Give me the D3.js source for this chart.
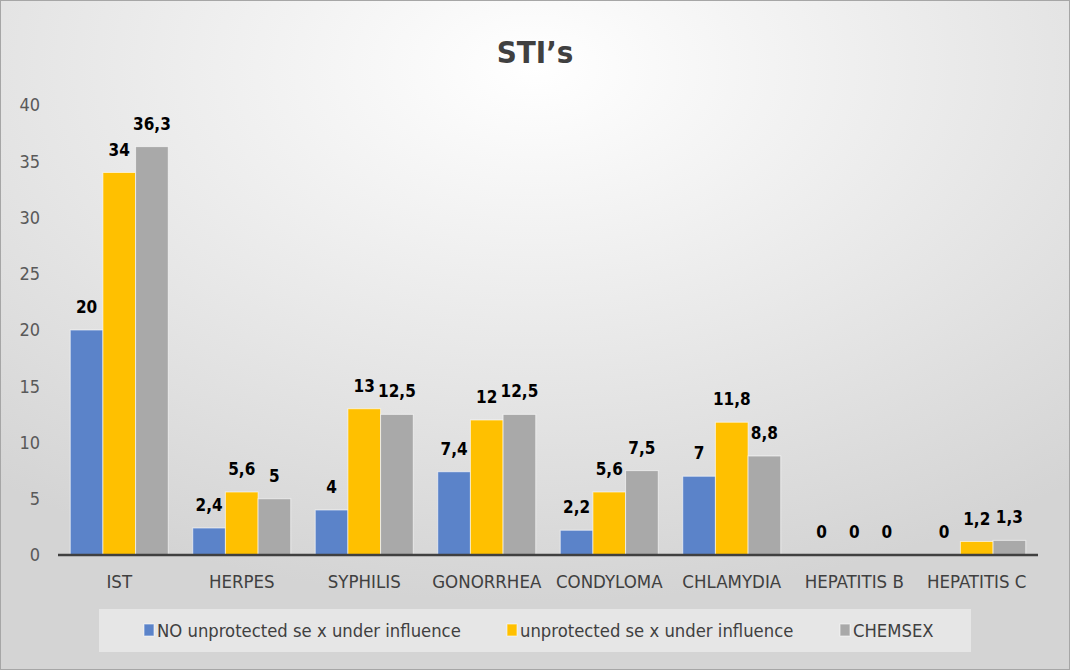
<!DOCTYPE html>
<html>
<head>
<meta charset="utf-8">
<script src="https://cdn.jsdelivr.net/npm/d3@7"></script>
<style>
  html, body { margin: 0; padding: 0; background: #fff; }
  svg { display: block; }
  text { font-family: "Liberation Sans Narrow", "Arial Narrow", "DejaVu Sans Condensed", sans-serif; }
</style>
</head>
<body>
<svg id="chart" width="1070" height="670"></svg>
<script>
const title = "STI’s";
const categories = ["IST", "HERPES", "SYPHILIS", "GONORRHEA", "CONDYLOMA", "CHLAMYDIA", "HEPATITIS B", "HEPATITIS C"];
const seriesNames = ["NO unprotected se x under influence", "unprotected se x under influence", "CHEMSEX"];
const seriesColors = ["#5b83c9", "#ffc000", "#a9a9a9"];
const noUnprotected = [20, 2.4, 4, 7.4, 2.2, 7, 0, 0];
const unprotected = [34, 5.6, 13, 12, 5.6, 11.8, 0, 1.2];
const chemsex = [36.3, 5, 12.5, 12.5, 7.5, 8.8, 0, 1.3];
const yTicks = [0, 5, 10, 15, 20, 25, 30, 35, 40];

const seriesValues = [noUnprotected, unprotected, chemsex];
const W = 1070, H = 670;
const svg = d3.select("#chart");

// background
const defs = svg.append("defs");
const grad = defs.append("radialGradient").attr("id", "bg")
  .attr("cx", "50%").attr("cy", "10%").attr("r", "80%")
  .attr("gradientUnits", "objectBoundingBox");
grad.append("stop").attr("offset", "0%").attr("stop-color", "#ffffff");
grad.append("stop").attr("offset", "100%").attr("stop-color", "#d4d4d4");
svg.append("rect").attr("x", 0.5).attr("y", 0.5).attr("width", W - 1).attr("height", H - 1)
  .attr("fill", "url(#bg)").attr("stroke", "#a6a6a6").attr("stroke-width", 1);

// title
svg.append("text").attr("x", 535).attr("y", 63).attr("text-anchor", "middle")
  .attr("font-size", 31).attr("font-weight", "bold").attr("fill", "#404040").text(title);

const x0 = d3.scaleBand().domain(categories).range([58, 1038]).paddingInner(0.2).paddingOuter(0.1);
const x1 = d3.scaleBand().domain(d3.range(seriesNames.length)).range([0, x0.bandwidth()]);
const y = d3.scaleLinear().domain([0, 40]).range([555, 105]);

// y tick labels
svg.append("g").selectAll("text").data(yTicks).join("text")
  .attr("x", 40).attr("y", d => y(d)).attr("dy", "0.35em").attr("text-anchor", "end")
  .attr("font-size", 18).attr("fill", "#595959").text(d => d);

const fmt = v => String(v).replace(".", ",");

// bars
const groups = svg.append("g").selectAll("g").data(categories).join("g")
  .attr("transform", c => `translate(${x0(c)},0)`);
groups.each(function(c, ci) {
  const g = d3.select(this);
  const data = seriesValues.map((arr, si) => ({ si, v: arr[ci] }));
  g.selectAll("rect").data(data.filter(d => d.v > 0)).join("rect")
    .attr("x", d => x1(d.si)).attr("width", x1.bandwidth())
    .attr("y", d => y(d.v)).attr("height", d => y(0) - y(d.v))
    .attr("fill", d => seriesColors[d.si])
    .attr("stroke", "#ffffff").attr("stroke-opacity", 0.6).attr("stroke-width", 1);
  g.selectAll("text").data(data).join("text")
    .attr("x", d => x1(d.si) + x1.bandwidth() / 2).attr("y", d => y(d.v) - 17)
    .attr("text-anchor", "middle").attr("font-size", 17).attr("font-weight", "bold")
    .attr("fill", "#000").text(d => fmt(d.v));
});

// axis line
svg.append("line").attr("x1", 58).attr("x2", 1038).attr("y1", y(0)).attr("y2", y(0))
  .attr("stroke", "#404040").attr("stroke-width", 2.5);

// category labels
svg.append("g").selectAll("text").data(categories).join("text")
  .attr("x", c => x0(c) + x0.bandwidth() / 2).attr("y", 588).attr("text-anchor", "middle")
  .attr("font-size", 18.5).attr("fill", "#404040").text(c => c);

// legend
svg.append("rect").attr("x", 99).attr("y", 609).attr("width", 872).attr("height", 43)
  .attr("fill", "#e6e6e6");
const legX = [144, 507, 840];
const leg = svg.append("g").selectAll("g").data(seriesNames).join("g")
  .attr("transform", (d, i) => `translate(${legX[i]},624)`);
leg.append("rect").attr("width", 10).attr("height", 12).attr("fill", (d, i) => seriesColors[i])
  .attr("stroke", "#fff").attr("stroke-opacity", 0.6);
leg.append("text").attr("x", 13).attr("y", 13).attr("font-size", 18.3).attr("fill", "#404040").text(d => d);
</script>
</body>
</html>
